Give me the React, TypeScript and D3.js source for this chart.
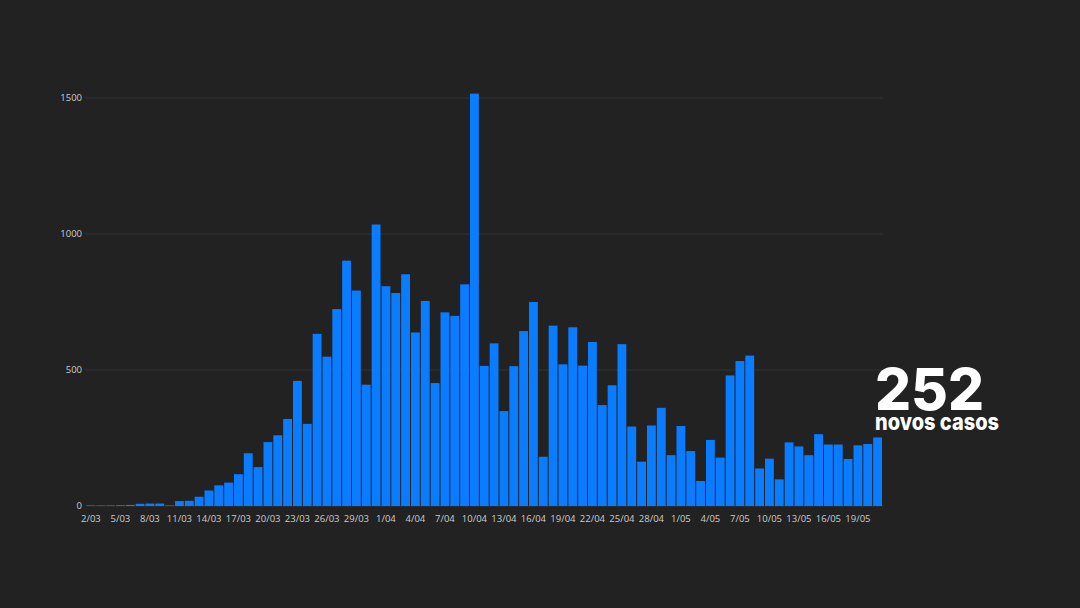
import * as d3 from "d3";
import { useEffect } from "react";

const WIDTH = 1080;
const HEIGHT = 608;

// daily new cases, 2/03 .. 21/05
const marchCases = [
    2, 2, 2, 3, 4, 8, 9, 9, 2, 18, 19, 34, 57, 76, 86, 117, 194, 143, 235, 260, 320, 460, 302, 633, 549, 724, 902, 792,
    446, 1035,
];
const aprilCases = [
    808, 783, 852, 638, 754, 452, 712, 699, 815, 1516, 515, 598, 349, 514, 643, 750, 181, 663, 521, 657, 516, 603, 371,
    444, 595, 292, 163, 296, 361, 187,
];
const mayCases = [294, 202, 92, 243, 178, 480, 533, 553, 138, 174, 98, 234, 219, 187, 264, 226, 226, 173, 223, 228, 252];
const yTicks = [0, 500, 1000, 1500];

const cases = [...marchCases, ...aprilCases, ...mayCases];
const days = d3.timeDays(new Date(2020, 2, 2), new Date(2020, 4, 22));
const fmt = d3.timeFormat("%-d/%m");

export default function App() {
    useEffect(() => {
        document.body.style.margin = "0";
        document.body.style.background = "#222222";
    }, []);

    const x = d3
        .scaleBand<number>()
        .domain(days.map((_, i) => i))
        .range([86, 882.5])
        .paddingInner(0.1)
        .paddingOuter(0.05);
    const y = d3.scaleLinear().domain([0, 1500]).range([506, 98]);
    const last = cases[cases.length - 1];

    return (
        <svg width={WIDTH} height={HEIGHT} style={{ display: "block", background: "#222222" }}>
            <rect width={WIDTH} height={HEIGHT} fill="#222222" />
            {yTicks.map((t) => (
                <g key={t}>
                    <line x1={85} x2={883} y1={y(t)} y2={y(t)} stroke="#333333" strokeWidth={1} />
                    <text
                        x={82}
                        y={y(t)}
                        dy="0.35em"
                        textAnchor="end"
                        fill="#cccccc"
                        fontFamily="'Open Sans', sans-serif"
                        fontSize={9.5}
                    >
                        {t}
                    </text>
                </g>
            ))}
            {cases.map((v, i) => (
                <rect key={i} x={x(i)} y={y(v)} width={x.bandwidth()} height={y(0) - y(v)} fill="#0a7cff" />
            ))}
            {days.map((d, i) =>
                i % 3 === 0 ? (
                    <text
                        key={i}
                        x={(x(i) ?? 0) + x.bandwidth() / 2}
                        y={522}
                        textAnchor="middle"
                        fill="#cccccc"
                        fontFamily="'Open Sans', sans-serif"
                        fontSize={9.5}
                    >
                        {fmt(d)}
                    </text>
                ) : null
            )}
            <text
                x={875}
                y={409.5}
                fill="#ffffff"
                fontFamily="Inter, sans-serif"
                fontWeight={800}
                fontSize={58}
                textLength={109}
                lengthAdjust="spacingAndGlyphs"
            >
                {last}
            </text>
            <text
                x={875}
                y={429.5}
                fill="#ffffff"
                fontFamily="Inter, sans-serif"
                fontWeight={800}
                fontSize={23}
                textLength={124}
                lengthAdjust="spacingAndGlyphs"
            >
                novos casos
            </text>
        </svg>
    );
}
